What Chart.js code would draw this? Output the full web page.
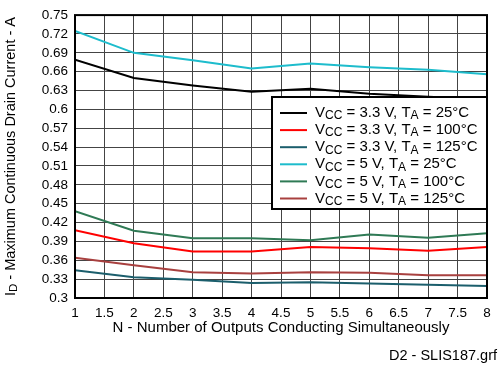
<!DOCTYPE html>
<html>
<head>
<meta charset="utf-8">
<script src="https://cdn.jsdelivr.net/npm/chart.js@4"></script>
<style>
  html, body { margin: 0; padding: 0; background: #fff; }
  #c { display: block; }
</style>
</head>
<body>
<canvas id="c" width="503" height="369"></canvas>
<script>
// x positions (number of outputs)
const outputs = [1, 2, 3, 4, 5, 6, 7, 8];
const xTicks = [1, 1.5, 2, 2.5, 3, 3.5, 4, 4.5, 5, 5.5, 6, 6.5, 7, 7.5, 8];
const yTicks = [0.3, 0.33, 0.36, 0.39, 0.42, 0.45, 0.48, 0.51, 0.54, 0.57, 0.6, 0.63, 0.66, 0.69, 0.72, 0.75];

// series values (A)
const vcc33_25 = [0.679, 0.650, 0.638, 0.628, 0.633, 0.625, 0.620, 0.616];
const vcc33_100 = [0.408, 0.387, 0.374, 0.374, 0.381, 0.379, 0.375, 0.381];
const vcc33_125 = [0.344, 0.333, 0.329, 0.324, 0.325, 0.323, 0.321, 0.319];
const vcc5_25 = [0.725, 0.690, 0.678, 0.665, 0.673, 0.667, 0.663, 0.656];
const vcc5_100 = [0.438, 0.407, 0.395, 0.395, 0.392, 0.401, 0.396, 0.403];
const vcc5_125 = [0.364, 0.352, 0.341, 0.339, 0.341, 0.340, 0.336, 0.336];

const series = [
  { vcc: '3.3', ta: '25', data: vcc33_25, color: '#000000' },
  { vcc: '3.3', ta: '100', data: vcc33_100, color: '#ff0000' },
  { vcc: '3.3', ta: '125', data: vcc33_125, color: '#1b5e6c' },
  { vcc: '5', ta: '25', data: vcc5_25, color: '#1dbccc' },
  { vcc: '5', ta: '100', data: vcc5_100, color: '#2f7a55' },
  { vcc: '5', ta: '125', data: vcc5_125, color: '#a8403f' }
];

const FONT = '"Liberation Sans", Arial, sans-serif';

// draws text pieces with subscripts, returns end x
function drawRich(ctx, parts, x, y, size) {
  parts.forEach(p => {
    const sub = p[1];
    ctx.font = (sub ? size - 3 : size) + 'px ' + FONT;
    ctx.fillText(p[0], x, sub ? y + 3 : y);
    x += ctx.measureText(p[0]).width;
  });
  return x;
}
function richWidth(ctx, parts, size) {
  let w = 0;
  parts.forEach(p => {
    ctx.font = (p[1] ? size - 3 : size) + 'px ' + FONT;
    w += ctx.measureText(p[0]).width;
  });
  return w;
}

const decorations = {
  id: 'decorations',
  afterDatasetsDraw(chart) {
    const ctx = chart.ctx;
    const a = chart.chartArea;
    ctx.save();
    // frame
    ctx.strokeStyle = '#000';
    ctx.lineWidth = 2;
    ctx.strokeRect(a.left, a.top, a.right - a.left, a.bottom - a.top);

    // legend box
    const bx = 272, by = 97, bw = a.right - 272, bh = 112;
    ctx.fillStyle = '#fff';
    ctx.fillRect(bx, by, bw, bh);
    ctx.strokeRect(bx, by, bw, bh);
    ctx.textBaseline = 'middle';
    series.forEach((s, i) => {
      const y = 113 + i * 17.1;
      ctx.strokeStyle = s.color;
      ctx.lineWidth = 2;
      ctx.beginPath();
      ctx.moveTo(280, y);
      ctx.lineTo(307, y);
      ctx.stroke();
      ctx.fillStyle = '#000';
      drawRich(ctx, [['V'], ['CC', true], [' = ' + s.vcc + ' V, T'], ['A', true], [' = ' + s.ta + '°C']], 315, y, 15);
    });

    // y axis title
    ctx.fillStyle = '#000';
    const yParts = [['I'], ['D', true], [' - Maximum Continuous Drain Current - A']];
    const w = richWidth(ctx, yParts, 14.5);
    ctx.translate(11, (a.top + a.bottom) / 2);
    ctx.rotate(-Math.PI / 2);
    ctx.textBaseline = 'middle';
    drawRich(ctx, yParts, -w / 2, 0, 14.5);
    ctx.restore();

    ctx.save();
    ctx.fillStyle = '#000';
    ctx.font = '15px ' + FONT;
    ctx.textAlign = 'center';
    ctx.textBaseline = 'middle';
    ctx.fillText('N - Number of Outputs Conducting Simultaneously', (a.left + a.right) / 2, 328);
    ctx.font = '14.5px ' + FONT;
    ctx.textAlign = 'right';
    ctx.fillText('D2 - SLIS187.grf', 497, 356);
    ctx.restore();
  }
};

const chart = new Chart(document.getElementById('c').getContext('2d'), {
  type: 'line',
  data: {
    datasets: series.map(s => ({
      data: s.data.map((v, i) => ({ x: outputs[i], y: v })),
      borderColor: s.color,
      borderWidth: 2,
      pointRadius: 0,
      tension: 0,
      fill: false
    }))
  },
  options: {
    responsive: false,
    animation: false,
    layout: { padding: { top: 11, right: 16, bottom: 0, left: 0 } },
    plugins: { legend: { display: false }, tooltip: { enabled: false } },
    scales: {
      x: {
        type: 'linear',
        min: 1,
        max: 8,
        afterBuildTicks: scale => { scale.ticks = xTicks.map(v => ({ value: v })); },
        afterFit: scale => { scale.height = 71; },
        grid: { color: '#444', lineWidth: 1, drawTicks: false },
        border: { display: false },
        ticks: {
          color: '#000',
          font: { family: FONT, size: 13.5 },
          padding: 7,
          maxRotation: 0,
          autoSkip: false,
          callback: v => String(v)
        }
      },
      y: {
        min: 0.3,
        max: 0.75,
        afterBuildTicks: scale => { scale.ticks = yTicks.map(v => ({ value: v })); },
        afterFit: scale => { scale.width = 75; },
        grid: { color: '#444', lineWidth: 1, drawTicks: false },
        border: { display: false },
        ticks: {
          color: '#000',
          font: { family: FONT, size: 13.5 },
          padding: 7,
          autoSkip: false,
          callback: v => String(+v.toFixed(2))
        }
      }
    }
  },
  plugins: [decorations]
});
</script>
</body>
</html>
